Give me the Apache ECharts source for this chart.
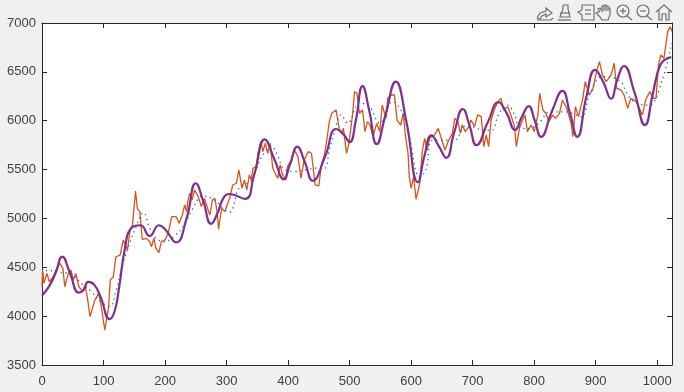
<!DOCTYPE html>
<html>
<head>
<meta charset="utf-8">
<script src="https://cdn.jsdelivr.net/npm/echarts@6/dist/echarts.min.js"></script>
<style>html,body{margin:0;padding:0;background:#f0f0f0}#c{width:684px;height:392px}</style>
</head>
<body>
<div id="c"></div>
<script>
const xTicks = [0,100,200,300,400,500,600,700,800,900,1000];
const yTicks = [3500,4000,4500,5000,5500,6000,6500,7000];
const rawX = [0,1,3,8,12,18,24,29,34,37,43,47,51,55,60,66,70,74,78,82,86,92,96,102,108,111,116,120,127,132,139,143,147,150,152,155,159,163,169,175,178,182,185,190,194,200,205,211,218,223,228,232,235,237,240,244,248,254,259,264,270,273,277,281,285,287,292,297,305,310,316,320,325,329,333,337,340,343,348,351,356,359,363,367,371,375,379,383,387,391,396,399,405,410,416,421,426,433,438,444,450,454,459,463,467,471,478,483,487,490,495,499,505,508,512,516,521,525,529,533,538,544,549,553,559,562,568,573,577,583,587,591,595,597,600,604,608,614,618,622,626,630,638,644,649,655,660,667,671,676,680,683,688,694,697,703,708,714,718,722,726,730,735,741,746,750,757,762,768,771,776,781,785,789,795,800,806,809,814,819,824,830,835,841,846,853,860,863,867,872,879,883,889,895,902,906,911,917,925,930,934,941,946,952,957,966,976,981,988,994,998,1002,1006,1011,1017,1021,1024];
const rawY = [4300,4472,4335,4437,4352,4403,4489,4540,4489,4301,4437,4472,4369,4437,4301,4250,4318,4182,3994,4079,4165,4233,4113,3858,4079,4369,4403,4608,4625,4779,4676,4881,4930,4920,5280,5100,5070,4786,4797,4763,4711,4797,4694,4650,4763,4780,4848,5018,5018,4950,5035,5138,5070,5172,5257,5189,5291,5223,5121,5206,5087,5035,5189,5206,5053,4889,5104,5070,5206,5342,5360,5496,5308,5394,5291,5445,5394,5513,5530,5667,5786,5684,5769,5667,5769,5513,5462,5411,5547,5445,5394,5530,5598,5701,5632,5411,5598,5684,5667,5343,5332,5547,5650,5803,5990,6076,6110,5922,5871,5922,5666,5769,6076,6297,6280,6076,6110,5888,5990,5956,5837,5973,5888,6161,6024,6229,6263,6263,6007,5956,6076,5837,5666,5427,5308,5427,5196,5359,5683,5820,5700,5820,5854,5922,5820,5700,5786,5871,6024,5990,5871,5956,5888,5939,6007,5939,6059,6041,5734,5854,5734,6007,6110,6195,6229,6110,6144,6059,5939,5734,5922,6007,6059,5888,5956,5888,6059,6280,6110,6076,5990,6059,6024,6076,6212,6127,5974,5837,6144,6042,6229,6400,6264,6315,6519,6605,6468,6400,6468,6588,6332,6315,6264,6127,6229,6195,6059,6212,6298,6229,6229,6570,6673,6639,6912,6963,6912];
const smoothX = [0,10,25,40,50,65,80,95,110,120,130,140,152,165,175,185,200,215,230,245,262,280,295,305,321,340,348,359,373,384,392,413,430,446,459,467,476,486,497,516,532,549,570,586,597,614,624,635,659,670,690,722,732,743,757,768,776,790,808,825,852,877,890,911,938,954,970,987,1008,1024];
const smoothY = [4430,4470,4450,4440,4420,4330,4250,4150,4100,4250,4500,4700,4900,5060,4900,4800,4760,4820,4920,5100,5230,5190,5100,5065,5320,5380,5495,5650,5735,5630,5515,5480,5500,5515,5513,5700,5905,6060,5975,6180,6145,5975,6195,6075,5835,5425,5495,5800,5800,5800,5950,5900,5905,6075,6160,6060,5935,5920,5975,6090,6090,6040,6265,6450,6415,6245,6170,6160,6415,6795];
const fitX = [0,12,22,33,45,60,68,75,85,95,110,118,125,135,145,160,175,190,200,218,235,250,262,275,285,295,305,330,345,362,378,393,403,415,427,440,460,478,490,500,510,521,532,544,558,575,592,611,622,633,645,657,670,684,695,706,725,742,755,769,780,791,801,811,829,846,858,870,885,899,912,925,935,946,963,980,992,998,1003,1008,1014,1023];
const fitY = [4210,4310,4440,4610,4450,4240,4270,4350,4320,4200,3970,4050,4280,4700,4900,4930,4820,4930,4890,4755,5000,5360,5180,4945,5050,5210,5250,5200,5450,5810,5600,5400,5550,5735,5580,5385,5630,5915,5860,5780,6000,6355,6100,5760,6050,6400,6000,5370,5650,5850,5740,5620,5880,6120,5950,5750,5990,6190,6080,5905,6040,6150,6000,5835,6100,6305,6080,5835,6250,6520,6400,6225,6420,6560,6290,5955,6250,6430,6540,6600,6630,6650];

const zip = (a, b) => a.map((v, i) => [v, b[i]]);
const ink = '#262626', lab = '#404040', icon = '#6f6f6f';
const font = { color: lab, fontSize: 13, fontFamily: 'Liberation Sans', formatter: v => String(v) };
const tickStyle = { inside: true, length: 5, lineStyle: { color: ink, width: 1 } };
const axLine = { show: true, onZero: false, lineStyle: { color: ink, width: 1 } };

function pl(points) {
  return { type: 'polyline', silent: true, shape: { points: points },
    style: { fill: null, stroke: icon, lineWidth: 1.2 } };
}
function ci(cx, cy, r) {
  return { type: 'circle', silent: true, shape: { cx: cx, cy: cy, r: r },
    style: { fill: null, stroke: icon, lineWidth: 1.2 } };
}
const icons = [
  pl([[537,18],[540,13],[546,11],[546,8],[552,13],[546,17],[546,14],[542,16],[540,19],[537,18]]),
  pl([[537,20],[551,20],[553,18]]),
  pl([[563,5],[568,5],[568,9],[570,17],[560,17],[563,9],[563,5]]),
  pl([[560,13],[570,13]]), pl([[558,20],[571,20]]),
  pl([[582,10],[582,5],[594,5],[594,20],[582,20],[582,15],[578,12],[582,10]]),
  pl([[585,10],[591,10]]), pl([[585,14],[591,14]]),
  pl([[600,12],[598,9],[600,8],[602,11],[602,6],[604,6],[604,11],[604,5],[606,5],[606,11],[606,6],[608,6],[608,11],[608,8],[610,8],[610,15],[608,20],[602,20],[600,17],[596,13],[598,12],[600,12]]),
  ci(623,11,6), pl([[627,16],[632,20]]), pl([[620,11],[626,11]]), pl([[623,8],[623,14]]),
  ci(643,11,6), pl([[647,16],[652,20]]), pl([[640,11],[646,11]]),
  pl([[656,12],[664,5],[672,12]]), pl([[659,10],[659,20],[662,20],[662,14],[666,14],[666,20],[669,20],[669,10]])
];

const option = {
  animation: false,
  backgroundColor: '#f0f0f0',
  grid: { left: 42, right: 12, top: 23, bottom: 27, show: true, backgroundColor: '#ffffff', borderWidth: 0 },
  xAxis: [
    { type: 'value', min: 0, max: 1024, position: 'bottom', splitLine: { show: false }, axisLine: axLine,
      axisTick: Object.assign({ customValues: xTicks }, tickStyle),
      axisLabel: Object.assign({ customValues: xTicks, margin: 10 }, font) },
    { type: 'value', min: 0, max: 1024, position: 'top', splitLine: { show: false }, axisLine: axLine,
      axisTick: Object.assign({ customValues: xTicks }, tickStyle), axisLabel: { show: false } }
  ],
  yAxis: [
    { type: 'value', min: 3500, max: 7000, interval: 500, position: 'left', splitLine: { show: false }, axisLine: axLine,
      axisTick: Object.assign({ customValues: yTicks }, tickStyle),
      axisLabel: Object.assign({ customValues: yTicks, margin: 6, padding: [3, 0, 0, 0] }, font) },
    { type: 'value', min: 3500, max: 7000, interval: 500, position: 'right', splitLine: { show: false }, axisLine: axLine,
      axisTick: Object.assign({ customValues: yTicks }, tickStyle), axisLabel: { show: false } }
  ],
  series: [
    { type: 'line', data: zip(rawX, rawY), showSymbol: false, silent: true,
      lineStyle: { color: '#D95319', width: 1.3 } },
    { type: 'line', data: zip(smoothX, smoothY), showSymbol: false, silent: true, smooth: 0.4,
      lineStyle: { color: '#0072BD', width: 1.3, type: [1.3, 3.7] } },
    { type: 'line', data: zip(fitX, fitY), showSymbol: false, silent: true, smooth: 0.5,
      lineStyle: { color: '#7E2F8E', width: 2.2 } }
  ],
  graphic: icons
};
echarts.init(document.getElementById('c'), null, { renderer: 'canvas' }).setOption(option);
</script>
</body>
</html>
